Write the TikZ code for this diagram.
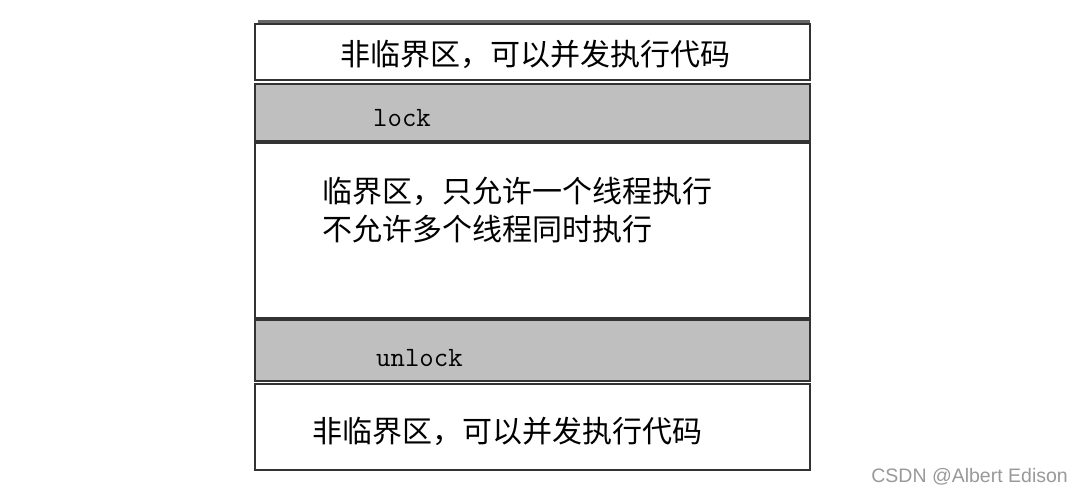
\documentclass[tikz,border=0pt]{standalone}
\usepackage{fontspec}
\newfontfamily\cjk{Noto Sans CJK SC}
\begin{document}
\begin{tikzpicture}[x=1pt,y=-1pt,
  row/.style={draw=black!80,line width=1.6pt},
  graybar/.style={row,fill=black!25},
  whitebar/.style={row,fill=white},
  cn/.style={font=\cjk\fontsize{30}{38}\selectfont,anchor=west,align=left,inner sep=0},
  tt/.style={font=\ttfamily\fontsize{28}{30}\selectfont,anchor=west,inner sep=0}]
\useasboundingbox (0,0) rectangle (1072,493);
\fill[white] (0,0) rectangle (1072,493);
\draw[black!60,line width=3pt] (258,21) -- (810,21);
\draw[whitebar] (255,24) rectangle (810,80);
\draw[graybar] (255,84) rectangle (810,141);
\draw[whitebar] (255,143) rectangle (810,318);
\draw[graybar] (255,320) rectangle (810,381);
\draw[whitebar] (255,384) rectangle (810,470);
\node[cn] (t1) at (340,54) {非临界区，可以并发执行代码};
\node[tt] (t2) at (373,118) {lock};
\node[cn] (t3) at (322,210) {临界区，只允许一个线程执行\\不允许多个线程同时执行};
\node[tt] (t4) at (376,358) {unlock};
\node[cn] (t5) at (312,431) {非临界区，可以并发执行代码};
\node[font=\fontspec{Liberation Sans}\fontsize{19.5}{22}\selectfont,text=black!40,anchor=east,inner sep=0] (wm) at (1068,477) {CSDN @Albert Edison};
\end{tikzpicture}
\end{document}
